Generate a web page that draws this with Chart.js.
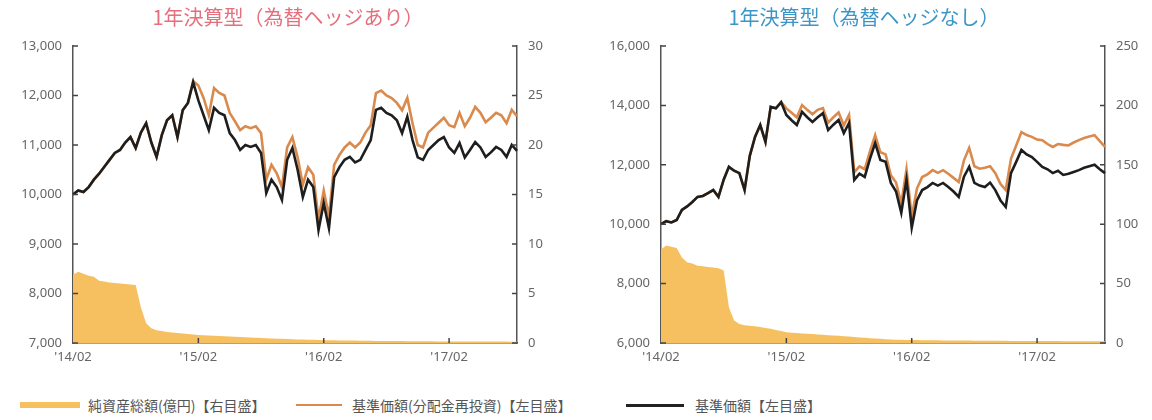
<!DOCTYPE html>
<html lang="ja">
<head>
    <meta charset="UTF-8">
    <title>1年決算型</title>
    <style>
        body { margin: 0; background: #fff; width: 1152px; height: 420px; overflow: hidden; font-family: "Noto Sans CJK JP", "Noto Sans", sans-serif; }
        .box { position: absolute; top: 0; width: 576px; height: 375px; }
        #leftBox { left: 0; }
        #rightBox { left: 576px; }
        .legend { position: absolute; top: 395px; left: 0; width: 1152px; height: 20px; font-size: 14px; color: #555; }
        .legend span { position: absolute; top: 0; line-height: 20px; white-space: nowrap; }
        .legend i { position: absolute; display: block; }
    </style>
</head>
<body>
    <div class="box" id="leftBox"><canvas id="leftChart"></canvas></div>
    <div class="box" id="rightBox"><canvas id="rightChart"></canvas></div>
    <div class="legend">
        <i style="left:20px; top:7px; width:60px; height:6px; background:#f6c060;"></i>
        <span style="left:88px;">純資産総額(億円)【右目盛】</span>
        <i style="left:296px; top:9px; width:46px; height:2px; background:#d98a4c;"></i>
        <span style="left:352px;">基準価額(分配金再投資)【左目盛】</span>
        <i style="left:626px; top:9px; width:58px; height:3px; background:#222;"></i>
        <span style="left:695px;">基準価額【左目盛】</span>
    </div>

    <script src="https://cdn.jsdelivr.net/npm/chart.js"></script>
    <script>
        // half-month steps, 2014/02 .. 2017/08
        const labels = [];
        for (let i = 0; i < 86; i++) {
            const mm = 1 + Math.floor(i / 2);
            const yy = 14 + Math.floor(mm / 12);
            labels.push("'" + yy + '/' + String(mm % 12 + 1).padStart(2, '0'));
        }
        const shownTicks = ["'14/02", "'15/02", "'16/02", "'17/02"];

        // 為替ヘッジあり
        const hedgedNav = [10000, 10080, 10050, 10150, 10300, 10420, 10560, 10700, 10840, 10900,
            11050, 11160, 10940, 11250, 11440, 11050, 10760, 11200, 11500, 11600,
            11160, 11700, 11850, 12270, 11900, 11600, 11300, 11750, 11650, 11600,
            11240, 11100, 10900, 11000, 10960, 11000, 10840, 10030, 10300, 10150,
            9890, 10700, 10940, 10500, 9950, 10300, 10150, 9280, 9830, 9320,
            10350, 10550, 10700, 10760, 10650, 10700, 10900, 11100, 11710, 11750,
            11650, 11600, 11500, 11240, 11570, 11100, 10750, 10700, 10900, 11000,
            11100, 11160, 10950, 10840, 11040, 10750, 10900, 11060, 10950, 10760,
            10850, 10960, 10900, 10760, 11000, 10880];
        const hedgedReinv = [10000, 10080, 10050, 10150, 10300, 10420, 10560, 10700, 10840, 10900,
            11050, 11160, 10940, 11250, 11440, 11050, 10760, 11200, 11500, 11600,
            11160, 11700, 11850, 12290, 12200, 11950, 11600, 12150, 12050, 12000,
            11650, 11480, 11300, 11380, 11340, 11380, 11240, 10300, 10600, 10430,
            10150, 10950, 11160, 10750, 10200, 10550, 10400, 9500, 10080, 9560,
            10600, 10800, 10950, 11050, 10950, 11050, 11250, 11400, 12050, 12100,
            12000, 11950, 11850, 11700, 11950, 11440, 11000, 10950, 11250, 11350,
            11450, 11550, 11400, 11360, 11650, 11380, 11550, 11770, 11650, 11460,
            11550, 11650, 11600, 11440, 11710, 11580];
        const hedgedAssets = [6.9, 7.2, 7.0, 6.8, 6.7, 6.3, 6.2, 6.1, 6.05, 6.0,
            5.95, 5.9, 5.85, 3.6, 2.0, 1.5, 1.3, 1.2, 1.1, 1.05,
            1.0, 0.95, 0.9, 0.85, 0.8, 0.78, 0.75, 0.72, 0.7, 0.68,
            0.65, 0.63, 0.6, 0.58, 0.55, 0.52, 0.5, 0.48, 0.46, 0.44,
            0.42, 0.4, 0.38, 0.36, 0.35, 0.33, 0.32, 0.3, 0.29, 0.28,
            0.27, 0.26, 0.25, 0.25, 0.24, 0.23, 0.22, 0.22, 0.21, 0.21,
            0.2, 0.2, 0.19, 0.19, 0.18, 0.18, 0.18, 0.17, 0.17, 0.17,
            0.16, 0.16, 0.16, 0.16, 0.15, 0.15, 0.15, 0.15, 0.15, 0.14,
            0.14, 0.14, 0.14, 0.14, 0.13, 0.13];

        // 為替ヘッジなし
        const openNav = [10000, 10100, 10060, 10140, 10480, 10600, 10750, 10920, 10950, 11050,
            11150, 10920, 11500, 11930, 11800, 11720, 11150, 12300, 12940, 13340,
            12770, 13950, 13900, 14110, 13680, 13500, 13340, 13780, 13600, 13440,
            13600, 13740, 13170, 13350, 13510, 13070, 13410, 11490, 11700, 11590,
            12200, 12730, 12160, 12100, 11390, 11100, 10380, 11500, 9880, 10800,
            11150, 11250, 11390, 11300, 11390, 11250, 11100, 10920, 11600, 11930,
            11390, 11300, 11250, 11400, 11150, 10800, 10580, 11720, 12100, 12500,
            12350, 12260, 12100, 11930, 11850, 11720, 11800, 11660, 11700, 11760,
            11820, 11900, 11950, 12000, 11850, 11720];
        const openReinv = [10000, 10100, 10060, 10140, 10480, 10600, 10750, 10920, 10950, 11050,
            11150, 10920, 11500, 11930, 11800, 11720, 11150, 12300, 12940, 13340,
            12770, 13950, 13900, 14110, 13900, 13750, 13600, 14010, 13850, 13700,
            13850, 13910, 13420, 13600, 13760, 13330, 13680, 11750, 11950, 11850,
            12450, 13000, 12420, 12350, 11650, 11400, 10700, 11850, 10250, 11200,
            11590, 11680, 11820, 11730, 11820, 11700, 11560, 11420, 12150, 12570,
            11950, 11870, 11900, 11950, 11720, 11350, 11150, 12200, 12650, 13100,
            13000, 12940, 12850, 12830, 12700, 12600, 12700, 12670, 12650, 12750,
            12830, 12900, 12950, 13000, 12800, 12600];
        const openAssets = [79, 82, 81, 80, 72, 68, 67, 65, 64.5, 64,
            63.5, 63, 61, 30, 19, 16, 15, 14.5, 14, 13.5,
            12.6, 12, 11, 10, 9, 8.7, 8.4, 8.1, 7.8, 7.5,
            7.2, 6.9, 6.6, 6.3, 6.0, 5.7, 5.4, 5.0, 4.7, 4.4,
            4.1, 3.8, 3.5, 3.2, 3.0, 2.8, 2.7, 2.6, 2.5, 2.45,
            2.4, 2.35, 2.3, 2.25, 2.2, 2.15, 2.1, 2.05, 2.0, 2.0,
            1.95, 1.9, 1.9, 1.85, 1.85, 1.8, 1.8, 1.75, 1.75, 1.7,
            1.7, 1.7, 1.65, 1.65, 1.6, 1.6, 1.6, 1.55, 1.55, 1.55,
            1.5, 1.5, 1.5, 1.5, 1.45, 1.45];

        // small inward tick marks on all three axes
        const innerTicks = {
            id: 'innerTicks',
            afterDraw(chart) {
                const c = chart.ctx, a = chart.chartArea;
                c.save();
                c.strokeStyle = '#444';
                c.lineWidth = 1.5;
                c.beginPath();
                chart.scales.y.ticks.forEach(t => {
                    const p = chart.scales.y.getPixelForValue(t.value);
                    c.moveTo(a.left, p); c.lineTo(a.left + 5, p);
                });
                chart.scales.y1.ticks.forEach(t => {
                    const p = chart.scales.y1.getPixelForValue(t.value);
                    c.moveTo(a.right - 5, p); c.lineTo(a.right, p);
                });
                chart.scales.x.ticks.forEach((t, i) => {
                    if (i === 0 || !t.label) return;
                    const p = chart.scales.x.getPixelForTick(i);
                    c.moveTo(p, a.bottom); c.lineTo(p, a.bottom - 5);
                });
                c.stroke();
                c.restore();
            }
        };

        function makeChart(id, title, titleColor, nav, reinv, assets, yMin, yMax, yStep, y1Max, y1Step, leftW, rightW) {
            const tickFont = { family: '"Noto Sans", sans-serif', size: 13 };
            return new Chart(document.getElementById(id), {
                type: 'line',
                data: {
                    labels: labels,
                    datasets: [
                        {
                            label: '基準価額【左目盛】',
                            data: nav,
                            borderColor: '#1e1e1e',
                            borderWidth: 2.6,
                            pointRadius: 0,
                            yAxisID: 'y',
                            order: 1
                        },
                        {
                            label: '基準価額(分配金再投資)【左目盛】',
                            data: reinv,
                            borderColor: '#d98a4c',
                            borderWidth: 2.6,
                            pointRadius: 0,
                            yAxisID: 'y',
                            order: 2
                        },
                        {
                            label: '純資産総額(億円)【右目盛】',
                            data: assets,
                            borderWidth: 0,
                            backgroundColor: '#f6c060',
                            fill: 'origin',
                            pointRadius: 0,
                            yAxisID: 'y1',
                            order: 3
                        }
                    ]
                },
                options: {
                    responsive: true,
                    maintainAspectRatio: false,
                    animation: false,
                    layout: { padding: 0 },
                    plugins: {
                        legend: { display: false },
                        tooltip: { enabled: false },
                        title: {
                            display: true,
                            text: title,
                            color: titleColor,
                            font: { family: '"Noto Sans CJK JP", sans-serif', size: 20, weight: 'normal' },
                            padding: { top: 5, bottom: 17 }
                        }
                    },
                    scales: {
                        x: {
                            grid: { drawOnChartArea: false, drawTicks: false },
                            border: { display: true, color: '#4e4636', width: 1.5 },
                            ticks: {
                                autoSkip: false,
                                maxRotation: 0,
                                minRotation: 0,
                                padding: 6,
                                color: '#666',
                                font: tickFont,
                                callback: function (value, index) {
                                    const lab = labels[index];
                                    return (index % 2 === 0 && shownTicks.includes(lab)) ? lab : null;
                                }
                            },
                            afterFit: s => { s.height = 32; }
                        },
                        y: {
                            position: 'left',
                            min: yMin,
                            max: yMax,
                            grid: { drawOnChartArea: false, drawTicks: false },
                            border: { display: true, color: '#555', width: 1.5 },
                            ticks: {
                                stepSize: yStep,
                                padding: 11,
                                color: '#666',
                                font: tickFont,
                                callback: v => v.toLocaleString('en-US')
                            },
                            afterFit: s => { s.width = leftW; }
                        },
                        y1: {
                            position: 'right',
                            min: 0,
                            max: y1Max,
                            grid: { drawOnChartArea: false, drawTicks: false },
                            border: { display: true, color: '#555', width: 1.5 },
                            ticks: {
                                stepSize: y1Step,
                                padding: 11,
                                color: '#666',
                                font: tickFont
                            },
                            afterFit: s => { s.width = rightW; }
                        }
                    }
                },
                plugins: [innerTicks]
            });
        }

        makeChart('leftChart', '1年決算型（為替ヘッジあり）', '#e56f7c',
            hedgedNav, hedgedReinv, hedgedAssets, 7000, 13000, 1000, 30, 5, 73, 59);
        makeChart('rightChart', '1年決算型（為替ヘッジなし）', '#3b96c8',
            openNav, openReinv, openAssets, 6000, 16000, 2000, 250, 50, 85, 47);
    </script>
</body>
</html>
